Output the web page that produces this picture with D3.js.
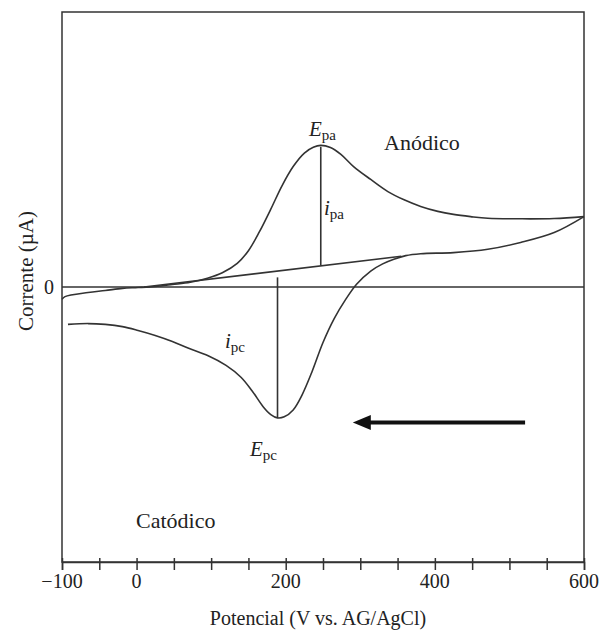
<!DOCTYPE html>
<html lang="pt">
<head>
<meta charset="UTF-8">
<title>Voltamograma cíclico</title>
<script src="https://d3js.org/d3.v7.min.js"></script>
<style>
  body { margin: 0; background: #fff; }
  text { font-family: "Liberation Serif", "Times New Roman", serif; fill: #222; }
</style>
</head>
<body>
<div id="grafico"></div>
<script>
// -- Dados (E em mV, corrente em unidades arbitrárias) --
const varreduraDireta = [
  [-100, -0.45], [-96, -0.35], [-65, -0.20], [-42, -0.13], [-19, -0.05],
  [2, -0.02], [25, 0.02], [48, 0.09], [72, 0.17], [95, 0.32], [115, 0.52],
  [135, 0.86], [150, 1.32], [165, 2.02], [180, 2.83], [195, 3.68],
  [210, 4.38], [225, 4.87], [237, 5.08], [247, 5.15], [260, 5.07], [274, 4.82],
  [291, 4.38], [314, 3.91], [337, 3.47], [358, 3.18], [381, 2.93],
  [404, 2.75], [425, 2.64], [448, 2.56], [471, 2.50], [515, 2.48],
  [560, 2.49], [600, 2.56]
];
const varreduraInversa = [
  [600, 2.56], [560, 1.98], [515, 1.62], [471, 1.37], [425, 1.25],
  [381, 1.21], [361, 1.14], [345, 1.01], [330, 0.84], [314, 0.58],
  [295, 0.10], [280, -0.47], [265, -1.15], [250, -2.02], [235, -3.10],
  [222, -3.92], [210, -4.47], [198, -4.72], [189, -4.76], [180, -4.64],
  [170, -4.36], [155, -3.78], [140, -3.28], [120, -2.85], [96, -2.50],
  [69, -2.22], [48, -1.98], [25, -1.76], [2, -1.58], [-19, -1.44],
  [-42, -1.36], [-65, -1.33], [-92, -1.36]
];
const linhaBase = [[10, 0.0], [355, 1.12]];
const ipa = { E: 247, de: 0.78, ate: 5.1 };
const ipc = { E: 189, de: 0.35, ate: -4.75 };
const seta = { de: 521, ate: 290, I: -4.93 };
const ticksX = d3.range(-100, 601, 50);
const rotulosX = [-100, 0, 200, 400, 600];

// -- Dimensões --
const width = 600, height = 637;
const x = d3.scaleLinear().domain([-100, 600]).range([62, 584]);
const y = d3.scaleLinear().domain([-10, 10]).range([562, 12]);

const svg = d3.select("#grafico").append("svg")
  .attr("width", width)
  .attr("height", height);

const cor = "#333";

// -- Moldura --
svg.append("rect")
  .attr("x", x(-100)).attr("y", y(10))
  .attr("width", x(600) - x(-100)).attr("height", y(-10) - y(10))
  .attr("fill", "none").attr("stroke", cor).attr("stroke-width", 1.5);

// -- Eixo x --
const eixoX = svg.append("g")
  .attr("transform", `translate(0,${y(-10)})`)
  .call(d3.axisBottom(x).tickValues(ticksX).tickSize(8).tickFormat(""));
eixoX.select(".domain").attr("stroke", cor).attr("stroke-width", 1.5);
eixoX.selectAll(".tick line").attr("y1", -4).attr("y2", 8)
  .attr("stroke", cor).attr("stroke-width", 1.5);

svg.selectAll(".rotulo-x")
  .data(rotulosX)
  .enter().append("text")
  .attr("class", "rotulo-x")
  .attr("x", d => x(d))
  .attr("y", 588)
  .attr("text-anchor", "middle")
  .attr("font-size", 20)
  .text(d => d < 0 ? "\u2212" + Math.abs(d) : d);

svg.append("text")
  .attr("x", 318).attr("y", 625)
  .attr("text-anchor", "middle").attr("font-size", 20)
  .text("Potencial (V vs. AG/AgCl)");

// -- Eixo y --
svg.append("text")
  .attr("transform", "translate(33,271) rotate(-90)")
  .attr("text-anchor", "middle").attr("font-size", 21)
  .text("Corrente (\u00b5A)");

svg.append("text")
  .attr("x", 54).attr("y", y(0) + 7)
  .attr("text-anchor", "end").attr("font-size", 20)
  .text("0");

// -- Linha do zero --
svg.append("line")
  .attr("x1", x(-100)).attr("x2", x(600))
  .attr("y1", y(0)).attr("y2", y(0))
  .attr("stroke", cor).attr("stroke-width", 1.5);

// -- Curvas --
const linha = d3.line()
  .x(d => x(d[0]))
  .y(d => y(d[1]))
  .curve(d3.curveCatmullRom);

[varreduraDireta, varreduraInversa, linhaBase].forEach(dados => {
  svg.append("path")
    .datum(dados)
    .attr("d", linha)
    .attr("fill", "none")
    .attr("stroke", cor)
    .attr("stroke-width", 1.6);
});

// -- Correntes de pico --
[ipa, ipc].forEach(p => {
  svg.append("line")
    .attr("x1", x(p.E)).attr("x2", x(p.E))
    .attr("y1", y(p.de)).attr("y2", y(p.ate))
    .attr("stroke", cor).attr("stroke-width", 1.6);
});

// -- Rótulos com subscrito --
function rotulo(px, py, letra, sub) {
  const t = svg.append("text")
    .attr("x", px).attr("y", py)
    .attr("font-size", 21);
  t.append("tspan").attr("font-style", "italic").text(letra);
  t.append("tspan").attr("font-size", 15).attr("dy", 4).text(sub);
}
rotulo(309, 136, "E", "pa");
rotulo(324, 215, "i", "pa");
rotulo(225, 348, "i", "pc");
rotulo(250, 456, "E", "pc");

svg.append("text")
  .attr("x", 384).attr("y", 150)
  .attr("font-size", 22)
  .text("An\u00f3dico");

svg.append("text")
  .attr("x", 136).attr("y", 528)
  .attr("font-size", 22)
  .text("Cat\u00f3dico");

// -- Seta --
svg.append("line")
  .attr("x1", x(seta.de)).attr("x2", x(seta.ate) + 16)
  .attr("y1", y(seta.I)).attr("y2", y(seta.I))
  .attr("stroke", "#111").attr("stroke-width", 4);
const xs = x(seta.ate), ys = y(seta.I);
svg.append("path")
  .attr("d", `M${xs},${ys} L${xs + 18},${ys - 7.5} L${xs + 18},${ys + 7.5} Z`)
  .attr("fill", "#111");
</script>
</body>
</html>
